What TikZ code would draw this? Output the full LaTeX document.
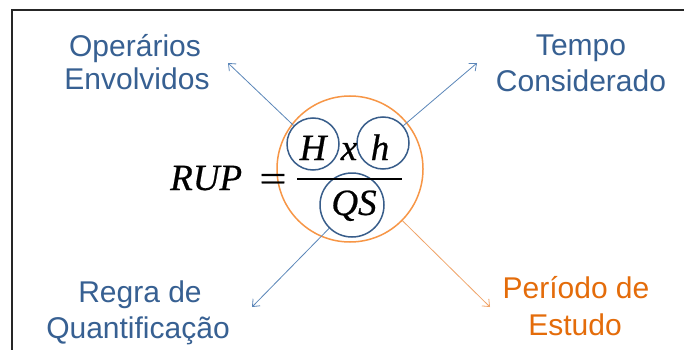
\documentclass[tikz,border=0pt]{standalone}
\usepackage{fontspec}
\setsansfont{Liberation Sans}
\newfontfamily\eqfont[FakeBold=0.6]{Liberation Serif}
\usetikzlibrary{arrows.meta}
\definecolor{lblblue}{HTML}{376092}
\definecolor{lblorange}{HTML}{E46C0A}
\definecolor{ringblue}{HTML}{385D8A}
\definecolor{ringorange}{HTML}{F79646}
\definecolor{arrblue}{HTML}{5B86B9}
\definecolor{arrorange}{HTML}{F0A468}
\definecolor{framegray}{HTML}{262626}
\tikzset{
  lbl/.style={font=\sffamily\fontsize{30}{35}\selectfont, text=lblblue, anchor=base, inner sep=0pt},
  olbl/.style={lbl, text=lblorange},
  eqtxt/.style={font=\eqfont\itshape\fontsize{37}{40}\selectfont, anchor=base, inner sep=0pt},
  ring/.style={circle, draw=ringblue, line width=1.5pt, inner sep=0pt},
  arr/.style={draw=arrblue, line width=0.8pt, -{Straight Barb[length=6pt,width=10pt]}},
}
\begin{document}
\begin{tikzpicture}[x=1pt,y=-1pt]
\useasboundingbox (0,0) rectangle (684,350);
\fill[white] (0,0) rectangle (684,350);
% frame
\draw[line width=1.5pt, draw=framegray] (12,352) -- (12,10) -- (686,10);

% circles
\node[ring, draw=ringorange, minimum size=146pt] (cO) at (350,169) {};
\node[ring, minimum size=52pt] (cH) at (313,144) {};
\node[ring, minimum size=52pt] (ch) at (383,143) {};
\node[ring, minimum size=64pt] (cQS) at (352,205) {};

% formula
\node[eqtxt, anchor=base west] (rup) at (170,190) {RUP};
\node[eqtxt, font=\eqfont\upshape\fontsize{37}{40}\selectfont, xscale=1.3] (eqs) at (273,191) {=};
\draw[line width=1.8pt] (297,179) -- (402,179);
\node[eqtxt] (H) at (313,160) {H};
\node[eqtxt] (x) at (349,160) {x};
\node[eqtxt] (h) at (380,160) {h};
\node[eqtxt] (QS) at (354,215) {QS};

% labels
\node[lbl] (opA) at (135,57) {Operários};
\node[lbl] (opB) at (137,90) {Envolvidos};
\node[lbl] (teA) at (581,56) {Tempo};
\node[lbl] (teB) at (581,92) {Considerado};
\node[lbl] (reA) at (140,302) {Regra de};
\node[lbl] (reB) at (138,338) {Quantificação};
\node[olbl] (peA) at (576,298) {Período de};
\node[olbl] (peB) at (575,335) {Estudo};

% arrow ends
\coordinate (tOp) at (228,63);
\coordinate (tTe) at (477,63);
\coordinate (tRe) at (252,307);
\coordinate (tPe) at (490,307);

\draw[arr] (cH) -- (tOp);
\draw[arr] (ch) -- (tTe);
\draw[arr] (cQS) -- (tRe);
\draw[arr, draw=arrorange] (cO) -- (tPe);
\end{tikzpicture}
\end{document}
